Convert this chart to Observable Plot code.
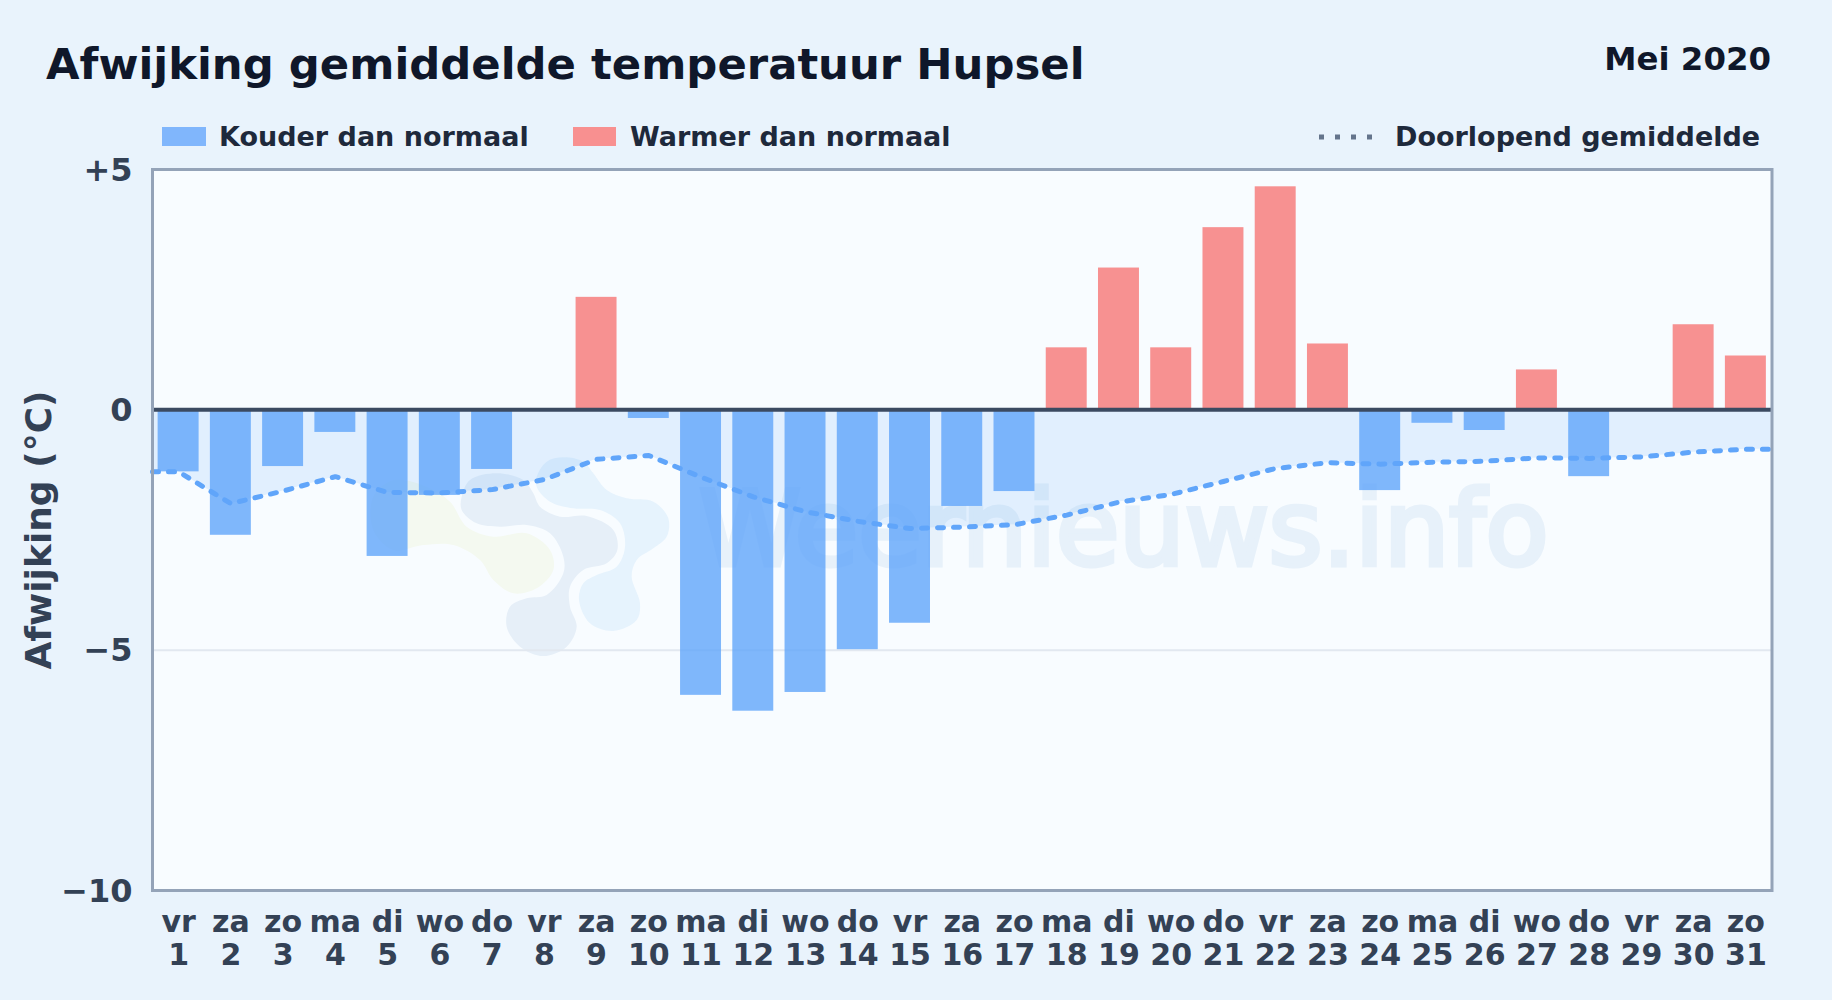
<!DOCTYPE html>
<html lang="nl">
<head>
<meta charset="utf-8">
<title>Afwijking gemiddelde temperatuur Hupsel</title>
<script src="https://cdn.jsdelivr.net/npm/d3@7"></script>
<script src="https://cdn.jsdelivr.net/npm/@observablehq/plot@0.6"></script>
<style>
  html, body { margin: 0; padding: 0; width: 1832px; height: 1000px; overflow: hidden; }
  body { position: relative; background: #e9f3fc;
         font-family: "DejaVu Sans", sans-serif; font-weight: 700; }
  .abs { position: absolute; white-space: nowrap; line-height: 1; }
  #title { left: 46px; top: 43px; font-size: 43.35px; color: #0f172a; }
  #period { right: 61px; top: 43px; font-size: 32.4px; color: #0f172a; }
  .leg { top: 123px; font-size: 27px; color: #1e293b; }
  .swatch { position: absolute; top: 127px; height: 19px; }
  #backdrop, #chart { position: absolute; left: 0; top: 0; }
  #chart svg { display: block; background: transparent; overflow: visible; }
</style>
</head>
<body>
<svg id="backdrop" width="1832" height="1000">
  <rect x="152" y="169" width="1619.5" height="721" fill="#f8fcff"/>
  <text x="699" y="565" font-family="DejaVu Sans" font-size="103" font-weight="400" fill="#e7f1fa" stroke="#e7f1fa" stroke-width="5">Weernieuws.info</text>
  <g id="logo"></g>
</svg>
<div id="chart"></div>
<div class="abs" id="title">Afwijking gemiddelde temperatuur Hupsel</div>
<div class="abs" id="period">Mei 2020</div>
<div class="swatch" style="left:162px;width:44px;background:#80b6fc"></div>
<div class="abs leg" style="left:219px">Kouder dan normaal</div>
<div class="swatch" style="left:573px;width:43px;background:#f89090"></div>
<div class="abs leg" style="left:630px">Warmer dan normaal</div>
<svg class="abs" style="left:1317px;top:134px" width="58" height="6"><line x1="2" x2="58" y1="3" y2="3" stroke="#64748b" stroke-width="5" stroke-dasharray="5 11"/></svg>
<div class="abs leg" style="left:1395px">Doorlopend gemiddelde</div>
<script>
const days = [1,2,3,4,5,6,7,8,9,10,11,12,13,14,15,16,17,18,19,20,21,22,23,24,25,26,27,28,29,30,31];
const weekdays = ["vr","za","zo","ma","di","wo","do","vr","za","zo","ma","di","wo","do","vr","za","zo","ma","di","wo","do","vr","za","zo","ma","di","wo","do","vr","za","zo"];
const anomaly = [-1.29,-2.61,-1.18,-0.47,-3.05,-1.78,-1.24,0,2.34,-0.18,-5.94,-6.27,-5.88,-4.99,-4.44,-2.01,-1.70,1.29,2.95,1.29,3.79,4.64,1.37,-1.68,-0.28,-0.43,0.83,-1.39,0,1.77,1.12];
const runningMean = [-1.29,-1.95,-1.69,-1.39,-1.72,-1.73,-1.66,-1.45,-1.03,-0.95,-1.40,-1.81,-2.12,-2.32,-2.47,-2.44,-2.39,-2.19,-1.92,-1.76,-1.49,-1.22,-1.10,-1.13,-1.09,-1.07,-1.00,-1.01,-0.98,-0.88,-0.82];
const yTicks = [5, 0, -5, -10];
const yTickLabels = ["+5", "0", "\u22125", "\u221210"];

const bars = days.map((day, i) => ({day, value: anomaly[i]})).filter(d => d.value !== 0);
const mean = [
  {day: 0.5, value: runningMean[0]},
  ...days.map((day, i) => ({day, value: runningMean[i]})),
  {day: 31.5, value: runningMean[30]}
];
const halfBar = 0.392;
const ink = "#334155";

const chart = Plot.plot({
  width: 1832,
  height: 1000,
  marginTop: 169,
  marginBottom: 110,
  marginLeft: 152,
  marginRight: 60.5,
  style: {background: "transparent", fontFamily: "DejaVu Sans, sans-serif"},
  x: {type: "linear", domain: [0.5, 31.5]},
  y: {domain: [-10, 5]},
  marks: [
    Plot.ruleY([-5], {stroke: "#e2e8f0", strokeWidth: 2}),
    Plot.areaY(mean, {x: "day", y1: 0, y2: "value", fill: "#60a5fa", fillOpacity: 0.15}),
    Plot.rectY(bars, {
      x1: d => d.day - halfBar,
      x2: d => d.day + halfBar,
      y1: 0,
      y2: "value",
      fill: d => d.value < 0 ? "#60a5fa" : "#f67676",
      fillOpacity: 0.8
    }),
    Plot.lineY(mean, {x: "day", y: "value", stroke: "#60a5fa", strokeWidth: 5, strokeDasharray: "6 10", strokeLinecap: "round", strokeLinejoin: "round"}),
    Plot.ruleY([0], {stroke: "#3b4a61", strokeWidth: 4}),
    Plot.frame({stroke: "#94a3b8", strokeWidth: 3}),
    Plot.axisY({
      ticks: yTicks,
      tickFormat: d => yTickLabels[yTicks.indexOf(d)],
      tickSize: 0,
      tickPadding: 20,
      fontSize: 32,
      fontWeight: 700,
      dy: 1,
      fill: ink,
      label: null
    }),
    Plot.text(["Afwijking (\u00b0C)"], {
      frameAnchor: "left",
      textAnchor: "middle",
      rotate: -90,
      dx: -113.5,
      fontSize: 36,
      fontWeight: 700,
      fill: ink
    }),
    Plot.axisX({
      ticks: days,
      tickFormat: d => `${weekdays[d - 1]}\n${d}`,
      tickSize: 0,
      tickPadding: 17.5,
      fontSize: 30,
      fontWeight: 700,
      lineHeight: 1.11,
      fill: ink,
      label: null
    })
  ]
});
document.getElementById("chart").append(chart);

// Faint logo behind the chart, as in the reference watermark (not data).
const toPage = ([x, y]) => [380 + x / 3, 430 + y / 3];
const blobs = [
  {fill: "#f4f9f0", outline: [[-20,200],[40,150],[140,170],[210,215],[260,290],[340,320],[440,310],[510,360],[520,420],[470,475],[400,490],[340,450],[300,390],[220,345],[130,345],[40,360],[-20,300]]},
  {fill: "#e6eff8", outline: [[245,200],[270,150],[350,130],[430,150],[460,190],[480,230],[540,260],[620,258],[700,300],[712,360],[680,400],[610,420],[570,470],[570,530],[590,590],[560,650],[490,678],[420,650],[380,590],[390,530],[440,505],[500,495],[550,430],[550,380],[510,310],[440,285],[360,290],[290,280],[245,240]]},
  {fill: "#e6f3fd", outline: [[470,140],[500,95],[550,82],[610,95],[640,130],[680,180],[740,205],[820,215],[865,265],[860,320],[820,355],[770,390],[755,440],[780,520],[770,570],[700,603],[630,580],[597,510],[610,460],[650,435],[710,410],[735,350],[720,280],[660,240],[580,235],[510,215],[470,170]]}
];
const blobPath = d3.line().curve(d3.curveCatmullRomClosed.alpha(0.5));
d3.select("#logo").selectAll("path").data(blobs).join("path")
  .attr("d", d => blobPath(d.outline.map(toPage)))
  .attr("fill", d => d.fill);
</script>
</body>
</html>
